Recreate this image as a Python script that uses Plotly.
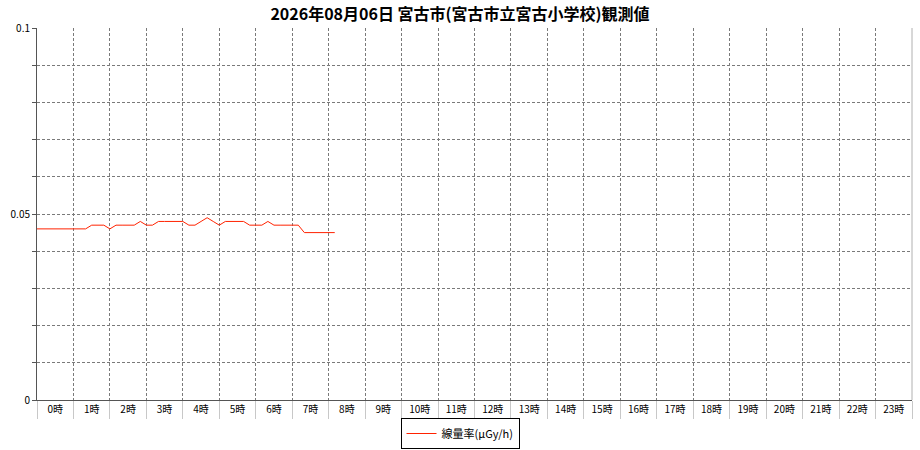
import plotly.graph_objects as go

# 10-minute readings from 0:00 (µGy/h)
dose_rate = [
    0.046, 0.046, 0.046, 0.046, 0.046, 0.046, 0.046, 0.046, 0.046,
    0.047, 0.047, 0.047,
    0.046,
    0.047, 0.047, 0.047, 0.047,
    0.048,
    0.047, 0.047,
    0.048, 0.048, 0.048, 0.048, 0.048,
    0.047, 0.047,
    0.048, 0.049, 0.048,
    0.047,
    0.048, 0.048, 0.048, 0.048,
    0.047, 0.047, 0.047,
    0.048,
    0.047, 0.047, 0.047, 0.047, 0.047,
    0.045, 0.045, 0.045, 0.045, 0.045, 0.045,
]
step_minutes = 10
times = [i * step_minutes / 60 for i in range(len(dose_rate))]

hour_labels = [f"{h}時" for h in range(24)]
hour_centers = [h + 0.5 for h in range(24)]
y_tick_vals = [0, 0.05, 0.1]
y_tick_text = ["0", "0.05", "0.1"]

title_text = "2026年08月06日 宮古市(宮古市立宮古小学校)観測値"
series_name = "線量率(μGy/h)"

font_family = "Noto Sans CJK JP, Noto Sans, sans-serif"
grid_color = "#7a7a7a"
grid_dash = "3px,2px"

fig = go.Figure()
fig.add_trace(go.Scatter(
    x=times, y=dose_rate, mode="lines", name=series_name,
    line=dict(color="#ff2200", width=1),
))

fig.update_layout(
    width=920, height=450,
    margin=dict(l=37, r=8, t=28, b=50),
    paper_bgcolor="white", plot_bgcolor="white",
    font=dict(family=font_family, size=10, color="black"),
    title=dict(text="<b>" + title_text + "</b>", x=0.5, xanchor="center",
               y=1 - 14 / 450, yanchor="middle", automargin=False,
               font=dict(family=font_family, size=16, color="black")),
    showlegend=True,
    # container refs so the legend does not push the bottom margin
    legend=dict(orientation="h", xref="container", yref="container",
                x=0.5, xanchor="center", y=1 - 449 / 450, yanchor="bottom",
                bordercolor="black", borderwidth=1, bgcolor="white",
                font=dict(size=11), itemwidth=30, tracegroupgap=0),
)

fig.update_xaxes(
    range=[0, 24], tickvals=hour_centers, ticktext=hour_labels,
    ticks="", showgrid=False, zeroline=False, automargin=False,
    showline=True, linecolor="#555555", linewidth=1,
    minor=dict(dtick=1, tick0=0, showgrid=True, gridcolor=grid_color,
               griddash=grid_dash, gridwidth=1,
               ticks="outside", ticklen=18, tickcolor="#c8c8c8", tickwidth=1),
    fixedrange=True,
)
fig.update_yaxes(
    range=[0, 0.1], tickvals=y_tick_vals, ticktext=y_tick_text,
    ticks="outside", ticklen=4, tickcolor="#555555", automargin=False,
    showgrid=True, gridcolor=grid_color, griddash=grid_dash, gridwidth=1,
    zeroline=False, showline=True, linecolor="#555555", linewidth=1,
    minor=dict(dtick=0.01, tick0=0, showgrid=True, gridcolor=grid_color,
               griddash=grid_dash, gridwidth=1,
               ticks="outside", ticklen=4, tickcolor="#555555"),
    fixedrange=True,
)

# light frame on the right edge of the plot area
fig.add_shape(type="line", xref="paper", yref="paper", x0=1, x1=1, y0=0, y1=1,
              line=dict(color="#b0b0b0", width=1))

# page body has a default 8px margin; drop it so the figure fills the window
page_fix = "document.body.style.margin='0';document.body.style.overflow='hidden';"
fig.write_html("out.html", post_script=page_fix,
               config={"displayModeBar": False})
